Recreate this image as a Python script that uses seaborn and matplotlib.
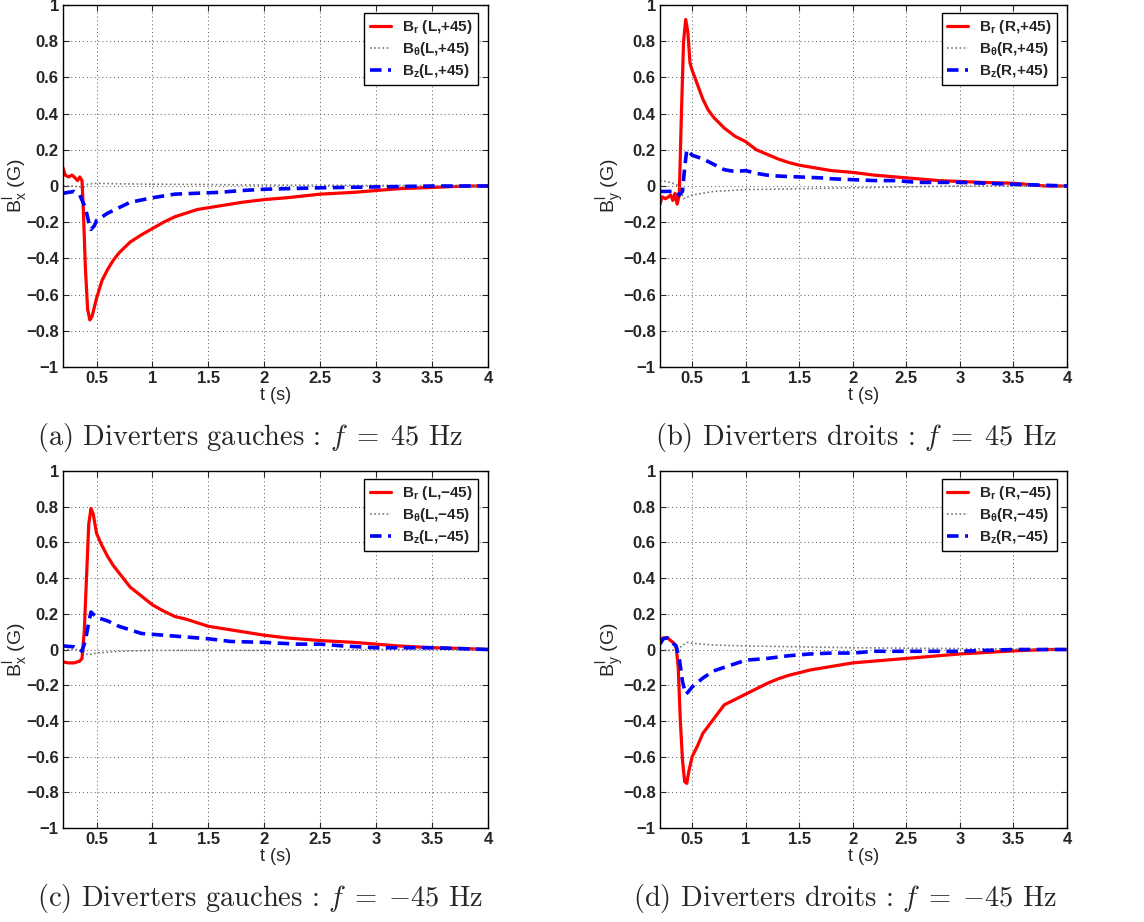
import numpy as np
import pandas as pd
import matplotlib
matplotlib.use("Agg")
import matplotlib.pyplot as plt
import seaborn as sns
from matplotlib.ticker import FixedLocator, FuncFormatter

# ---- (a) left diverters, f = +45 Hz ----
t_a_r = [0.2, 0.22, 0.25, 0.28, 0.30, 0.33, 0.35, 0.37, 0.38, 0.40, 0.42, 0.44, 0.46, 0.50, 0.55, 0.60,
         0.65, 0.70, 0.80, 0.90, 1.0, 1.1, 1.2, 1.3, 1.4, 1.5, 1.6, 1.8, 2.0, 2.2, 2.5, 2.8, 3.0, 3.2,
         3.5, 3.8, 4.0]
br_a = [0.10, 0.06, 0.05, 0.06, 0.05, 0.03, 0.05, 0.03, -0.10, -0.45, -0.68, -0.74, -0.72, -0.62, -0.52,
        -0.46, -0.41, -0.37, -0.31, -0.27, -0.235, -0.20, -0.17, -0.15, -0.13, -0.12, -0.11, -0.09,
        -0.075, -0.065, -0.045, -0.035, -0.025, -0.015, -0.008, 0.0, 0.0]
t_a_z = [0.2, 0.3, 0.35, 0.40, 0.43, 0.45, 0.48, 0.50, 0.6, 0.7, 0.8, 1.0, 1.2, 1.4, 1.6, 1.8, 2.0,
         2.5, 3.0, 3.5, 4.0]
bz_a = [-0.04, -0.03, -0.05, -0.12, -0.20, -0.24, -0.22, -0.19, -0.15, -0.12, -0.09, -0.065, -0.045,
        -0.04, -0.035, -0.025, -0.018, -0.01, -0.005, 0.0, 0.0]
t_a_th = [0.2, 0.3, 0.38, 0.42, 0.5, 0.7, 1.0, 1.5, 2.0, 3.0, 4.0]
bth_a = [0.0, 0.0, -0.01, 0.01, 0.015, 0.012, 0.01, 0.008, 0.005, 0.003, 0.0]

# ---- (b) right diverters, f = +45 Hz ----
t_b_r = [0.2, 0.22, 0.25, 0.28, 0.30, 0.32, 0.34, 0.36, 0.38, 0.40, 0.42, 0.44, 0.46, 0.48, 0.50, 0.55,
         0.60, 0.65, 0.70, 0.80, 0.90, 1.0, 1.1, 1.2, 1.3, 1.4, 1.5, 1.6, 1.8, 2.0, 2.2, 2.5, 2.8, 3.0,
         3.2, 3.5, 3.8, 4.0]
br_b = [-0.10, -0.06, -0.07, -0.06, -0.05, -0.08, -0.04, -0.10, -0.05, 0.40, 0.80, 0.92, 0.85, 0.68,
        0.64, 0.56, 0.48, 0.42, 0.38, 0.32, 0.275, 0.245, 0.20, 0.175, 0.15, 0.13, 0.115, 0.105, 0.085,
        0.075, 0.06, 0.045, 0.03, 0.025, 0.02, 0.015, 0.0, 0.0]
t_b_z = [0.2, 0.25, 0.35, 0.38, 0.41, 0.43, 0.45, 0.5, 0.6, 0.7, 0.8, 0.9, 1.0, 1.1, 1.2, 1.3, 1.5,
         1.7, 1.8, 2.0, 2.2, 2.4, 2.6, 2.8, 3.0, 3.5, 4.0]
bz_b = [-0.03, -0.03, -0.03, -0.05, -0.03, 0.10, 0.20, 0.17, 0.15, 0.12, 0.09, 0.08, 0.085, 0.07, 0.06,
        0.055, 0.05, 0.045, 0.04, 0.035, 0.03, 0.03, 0.02, 0.02, 0.02, 0.01, 0.0]
t_b_th = [0.2, 0.3, 0.38, 0.42, 0.5, 0.7, 1.0, 2.0, 3.0, 4.0]
bth_b = [0.03, 0.02, 0.0, -0.07, -0.05, -0.03, -0.02, -0.01, 0.0, 0.0]

# ---- (c) left diverters, f = -45 Hz ----
t_c_r = [0.2, 0.25, 0.30, 0.35, 0.37, 0.39, 0.41, 0.43, 0.45, 0.47, 0.50, 0.55, 0.60, 0.65, 0.70, 0.75,
         0.80, 0.90, 1.0, 1.1, 1.2, 1.3, 1.4, 1.5, 1.6, 1.8, 2.0, 2.2, 2.5, 2.8, 3.0, 3.2, 3.5, 3.8, 4.0]
br_c = [-0.07, -0.075, -0.075, -0.065, -0.05, 0.10, 0.40, 0.70, 0.79, 0.76, 0.65, 0.58, 0.52, 0.47,
        0.43, 0.39, 0.35, 0.30, 0.25, 0.215, 0.185, 0.17, 0.15, 0.13, 0.12, 0.10, 0.08, 0.065, 0.05,
        0.04, 0.03, 0.02, 0.01, 0.005, 0.0]
t_c_z = [0.2, 0.3, 0.35, 0.37, 0.40, 0.43, 0.45, 0.5, 0.6, 0.7, 0.8, 0.9, 1.0, 1.1, 1.3, 1.5, 1.7,
         2.0, 2.3, 2.5, 2.7, 3.0, 3.5, 4.0]
bz_c = [0.02, 0.015, 0.0, -0.01, 0.05, 0.15, 0.21, 0.18, 0.16, 0.13, 0.11, 0.09, 0.085, 0.08, 0.07,
        0.06, 0.045, 0.04, 0.03, 0.03, 0.02, 0.01, 0.01, 0.0]
t_c_th = [0.2, 0.3, 0.37, 0.42, 0.5, 0.7, 1.0, 2.0, 3.0, 4.0]
bth_c = [0.0, 0.0, 0.0, -0.03, -0.02, -0.01, -0.005, -0.005, 0.0, 0.0]

# ---- (d) right diverters, f = -45 Hz ----
t_d_r = [0.2, 0.23, 0.27, 0.30, 0.33, 0.35, 0.37, 0.39, 0.41, 0.43, 0.45, 0.47, 0.50, 0.55, 0.60, 0.70,
         0.80, 0.90, 1.0, 1.1, 1.2, 1.3, 1.4, 1.5, 1.6, 1.8, 2.0, 2.2, 2.5, 2.8, 3.0, 3.2, 3.5, 3.8, 4.0]
br_d = [0.05, 0.065, 0.065, 0.05, 0.035, 0.02, -0.10, -0.40, -0.62, -0.74, -0.75, -0.68, -0.60, -0.54,
        -0.47, -0.39, -0.31, -0.28, -0.25, -0.22, -0.19, -0.165, -0.145, -0.13, -0.115, -0.095, -0.075,
        -0.065, -0.05, -0.035, -0.025, -0.018, -0.008, 0.0, 0.0]
t_d_z = [0.2, 0.23, 0.27, 0.30, 0.33, 0.35, 0.38, 0.41, 0.44, 0.46, 0.5, 0.6, 0.7, 0.8, 0.9, 1.0, 1.2,
         1.4, 1.6, 1.8, 2.0, 2.2, 2.5, 3.0, 3.5, 4.0]
bz_d = [0.03, 0.06, 0.065, 0.05, 0.03, 0.02, -0.05, -0.18, -0.25, -0.24, -0.21, -0.16, -0.12, -0.10,
        -0.08, -0.06, -0.05, -0.035, -0.025, -0.02, -0.02, -0.01, -0.01, -0.01, 0.0, 0.0]
t_d_th = [0.2, 0.3, 0.36, 0.45, 0.5, 0.7, 1.0, 2.0, 3.0, 4.0]
bth_d = [-0.005, -0.005, 0.0, 0.04, 0.035, 0.025, 0.02, 0.01, 0.005, 0.0]

panels = [
    ("a", "L,+45", "x", t_a_r, br_a, t_a_th, bth_a, t_a_z, bz_a,
     r"(a) Diverters gauches : $f\;=\;45$ Hz"),
    ("b", "R,+45", "y", t_b_r, br_b, t_b_th, bth_b, t_b_z, bz_b,
     r"(b) Diverters droits : $f\;=\;45$ Hz"),
    ("c", "L,\u221245", "x", t_c_r, br_c, t_c_th, bth_c, t_c_z, bz_c,
     r"(c) Diverters gauches : $f\;=\;{-45}$ Hz"),
    ("d", "R,\u221245", "y", t_d_r, br_d, t_d_th, bth_d, t_d_z, bz_d,
     r"(d) Diverters droits : $f\;=\;{-45}$ Hz"),
]

# axes rectangles in figure fractions (left, bottom, width, height)
W, H = 1144, 922
rects = {
    "a": (63 / W, (H - 367) / H, 425 / W, 362 / H),
    "b": (660 / W, (H - 367) / H, 407 / W, 362 / H),
    "c": (63 / W, (H - 828) / H, 425 / W, 357 / H),
    "d": (660 / W, (H - 828) / H, 407 / W, 357 / H),
}
captions = {"a": (37, 437), "b": (655, 437), "c": (37, 898), "d": (633, 898)}

sns.set_style("ticks")
plt.rcParams["font.family"] = ["Liberation Sans", "DejaVu Sans"]
plt.rcParams["mathtext.fontset"] = "custom"
plt.rcParams["mathtext.rm"] = "Liberation Sans"
plt.rcParams["mathtext.it"] = "Liberation Sans:italic"
plt.rcParams["mathtext.bf"] = "Liberation Sans:bold"
plt.rcParams["mathtext.bfit"] = "Liberation Sans:bold:italic"


def tick_fmt(v, pos):
    return f"{round(v, 1) + 0.0:g}".replace("-", "\u2212")


fig = plt.figure(figsize=(W / 100, H / 100), dpi=100)

for key, tag, comp, tr, br, tth, bth, tz, bz, cap in panels:
    ax = fig.add_axes(rects[key])
    sns.lineplot(x=tr, y=br, ax=ax, color="#ff0000", lw=2.3, sort=False,
                 label=r"$\mathbf{B_r}$ (" + tag + ")")
    sns.lineplot(x=tth, y=bth, ax=ax, color="#777777", lw=1.2, linestyle=(0, (1, 1.5)), sort=False,
                 label=r"$\mathbf{B_\theta}$(" + tag + ")")
    sns.lineplot(x=tz, y=bz, ax=ax, color="#0000ff", lw=2.6, linestyle=(0, (3.2, 1.8)), sort=False,
                 label=r"$\mathbf{B_z}$(" + tag + ")")

    ax.set_xlim(0.2, 4)
    ax.set_ylim(-1, 1)
    ax.xaxis.set_major_locator(FixedLocator(np.arange(0.5, 4.01, 0.5)))
    ax.yaxis.set_major_locator(FixedLocator(np.linspace(-1, 1, 11)))
    ax.xaxis.set_major_formatter(FuncFormatter(tick_fmt))
    ax.yaxis.set_major_formatter(FuncFormatter(tick_fmt))
    ax.grid(True, linestyle=(0, (1, 3)), color="#555555", lw=0.7)
    ax.tick_params(direction="in", top=True, right=True, length=4, width=0.8,
                   labelsize=12, pad=3)
    for lab in ax.get_xticklabels() + ax.get_yticklabels():
        lab.set_fontweight("bold")
    for sp in ax.spines.values():
        sp.set_linewidth(1.0)
        sp.set_color("black")

    ax_w = rects[key][2] * W
    ax_h = rects[key][3] * H
    ax.set_xlabel("t (s)", fontsize=13)
    ax.xaxis.set_label_coords(0.5, -20 / ax_h)
    ax.set_ylabel(r"$\mathrm{B^{l}_{" + comp + "}}$ (G)", fontsize=14)
    ax.yaxis.set_label_coords(-33 / ax_w, 0.5)

    leg = ax.legend(loc="upper right", bbox_to_anchor=(1 - 10 / ax_w, 1 - 8 / ax_h),
                    borderaxespad=0,
                    prop={"weight": "bold", "size": 11}, handlelength=1.4,
                    handletextpad=0.7, labelspacing=0.25, borderpad=0.35,
                    frameon=True, fancybox=False, framealpha=1.0)
    leg.get_frame().set_edgecolor("black")
    leg.get_frame().set_linewidth(1.0)

    cx, cy = captions[key]
    fig.text(cx / W, 1 - cy / H, cap, ha="left", va="center", fontsize=20.5,
             family="cmr10", math_fontfamily="cm")

fig.savefig("out.png", dpi=100)
